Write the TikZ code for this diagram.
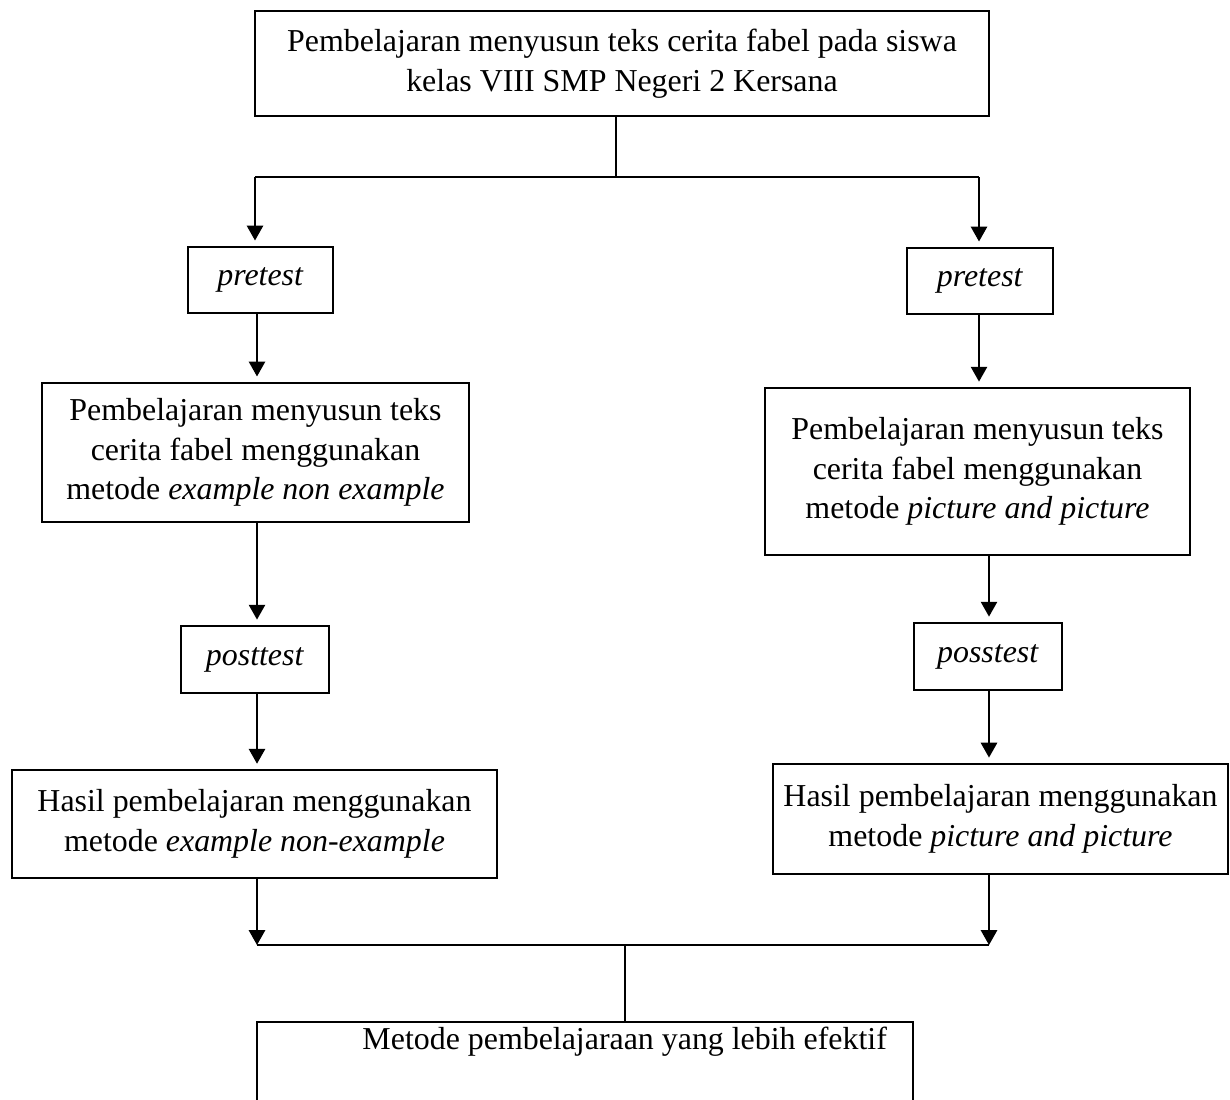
\documentclass[tikz,border=0pt]{standalone}
\usepackage{fontspec}
\setmainfont{Liberation Serif}
\usepackage{tikz}
\usetikzlibrary{arrows.meta, positioning}

\begin{document}
\begin{tikzpicture}[
  x=0.013cm, y=-0.013cm,
  box/.style={draw, line width=0.75pt, inner sep=2pt, align=center,
              font=\fontsize{11.8}{14.6}\selectfont},
  arr/.style={-{Triangle[width=6pt,length=5.5pt]}, line width=0.75pt},
  ln/.style={line width=0.75pt},
]
\useasboundingbox (0,0) rectangle (1230,1099);

\node[box, minimum width=9.54cm, minimum height=1.365cm] (top) at (622,63.5)
  {Pembelajaran menyusun teks cerita fabel pada siswa\\kelas VIII SMP Negeri 2 Kersana};
\node[box, minimum width=1.89cm, minimum height=0.86cm] (pre1) at (260.5,280) {\textit{pretest}};
\node[box, minimum width=1.90cm, minimum height=0.86cm] (pre2) at (980,281) {\textit{pretest}};
\node[box, minimum width=5.55cm, minimum height=1.81cm] (met1) at (255.5,452.5)
  {Pembelajaran menyusun teks\\cerita fabel menggunakan\\metode \textit{example non example}};
\node[box, minimum width=5.53cm, minimum height=2.17cm] (met2) at (977.5,471.5)
  {Pembelajaran menyusun teks\\cerita fabel menggunakan\\metode \textit{picture and picture}};
\node[box, minimum width=1.92cm, minimum height=0.87cm] (post1) at (255,659.5) {\textit{posttest}};
\node[box, minimum width=1.92cm, minimum height=0.87cm] (post2) at (988,656.5) {\textit{posstest}};
\node[box, minimum width=6.31cm, minimum height=1.40cm] (res1) at (254.5,824)
  {Hasil pembelajaran menggunakan\\metode \textit{example non-example}};
\node[box, minimum width=5.92cm, minimum height=1.43cm] (res2) at (1000.5,819)
  {Hasil pembelajaran menggunakan\\metode \textit{picture and picture}};
\node[box, anchor=north, inner xsep=9.6pt, text width=223.3pt, align=flush right,
      text depth=40pt] (goal) at (585,1021)
  {Metode pembelajaraan yang lebih efektif};

\coordinate (tm) at (616,177);
\coordinate (tl) at (255,177);
\coordinate (tr) at (979,177);
\coordinate (bl) at (257,945);
\coordinate (br) at (989,945);
\coordinate (bm) at (625,945);

\draw[ln]  (tm |- top.south) -- (tm);
\draw[ln]  (tl) -- (tr);
\draw[arr] (tl) -- ([yshift=2pt]tl |- pre1.north);
\draw[arr] (tr) -- ([yshift=2pt]tr |- pre2.north);
\draw[arr] (pre1.south -| bl) -- ([yshift=2pt]bl |- met1.north);
\draw[arr] (pre2.south -| tr) -- ([yshift=2pt]tr |- met2.north);
\draw[arr] (met1.south -| bl) -- ([yshift=2pt]bl |- post1.north);
\draw[arr] (met2.south -| br) -- ([yshift=2pt]br |- post2.north);
\draw[arr] (post1.south -| bl) -- ([yshift=2pt]bl |- res1.north);
\draw[arr] (post2.south -| br) -- ([yshift=2pt]br |- res2.north);
\draw[arr] (res1.south -| bl) -- (bl);
\draw[arr] (res2.south -| br) -- (br);
\draw[ln]  (bl) -- (br);
\draw[ln]  (bm) -- (bm |- goal.north);
\end{tikzpicture}
\end{document}
